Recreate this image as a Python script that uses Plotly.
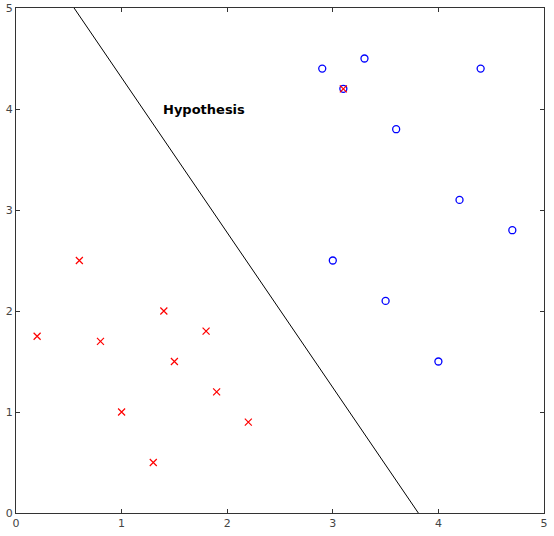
import plotly.graph_objects as go

neg_x = [0.2, 0.6, 0.8, 1.0, 1.3, 1.4, 1.5, 1.8, 1.9, 2.2, 3.1]
neg_y = [1.75, 2.5, 1.7, 1.0, 0.5, 2.0, 1.5, 1.8, 1.2, 0.9, 4.2]

pos_x = [2.9, 3.3, 3.1, 3.6, 4.4, 4.2, 4.7, 3.0, 3.5, 4.0]
pos_y = [4.4, 4.5, 4.2, 3.8, 4.4, 3.1, 2.8, 2.5, 2.1, 1.5]

line_x = [0.55, 3.81]
line_y = [5.0, 0.0]

ticks = [0, 1, 2, 3, 4, 5]

fig = go.Figure()
fig.add_trace(go.Scatter(
    x=line_x, y=line_y, mode="lines",
    line=dict(color="black", width=1),
))
fig.add_trace(go.Scatter(
    x=pos_x, y=pos_y, mode="markers",
    marker=dict(symbol="circle-open", size=7, color="#0000ff", line=dict(width=1.3)),
))
fig.add_trace(go.Scatter(
    x=neg_x, y=neg_y, mode="markers",
    marker=dict(symbol="x-thin-open", size=7, color="#ff0000", line=dict(width=1.2)),
))
fig.add_annotation(
    x=1.37, y=4.0, text="<b>Hypothesis</b>", showarrow=False,
    xanchor="left", yanchor="middle",
    font=dict(family="DejaVu Sans", size=13, color="black"),
)

axis = dict(
    range=[0, 5], tickvals=ticks, showgrid=False, zeroline=False,
    showline=True, linecolor="#333333", linewidth=1, mirror="ticks",
    ticks="inside", ticklen=4, tickcolor="#333333", automargin=False,
    tickfont=dict(family="DejaVu Sans", size=11, color="#444444"),
)

fig.update_layout(
    width=554, height=536,
    paper_bgcolor="white", plot_bgcolor="white",
    showlegend=False,
    margin=dict(l=16, r=10, t=8, b=23),
    xaxis=axis, yaxis=axis,
)

# drop the browser's default body margin so the figure sits at the top-left
fig.write_html(
    "out.html",
    config={"displayModeBar": False},
    post_script="document.body.style.margin='0';",
)
